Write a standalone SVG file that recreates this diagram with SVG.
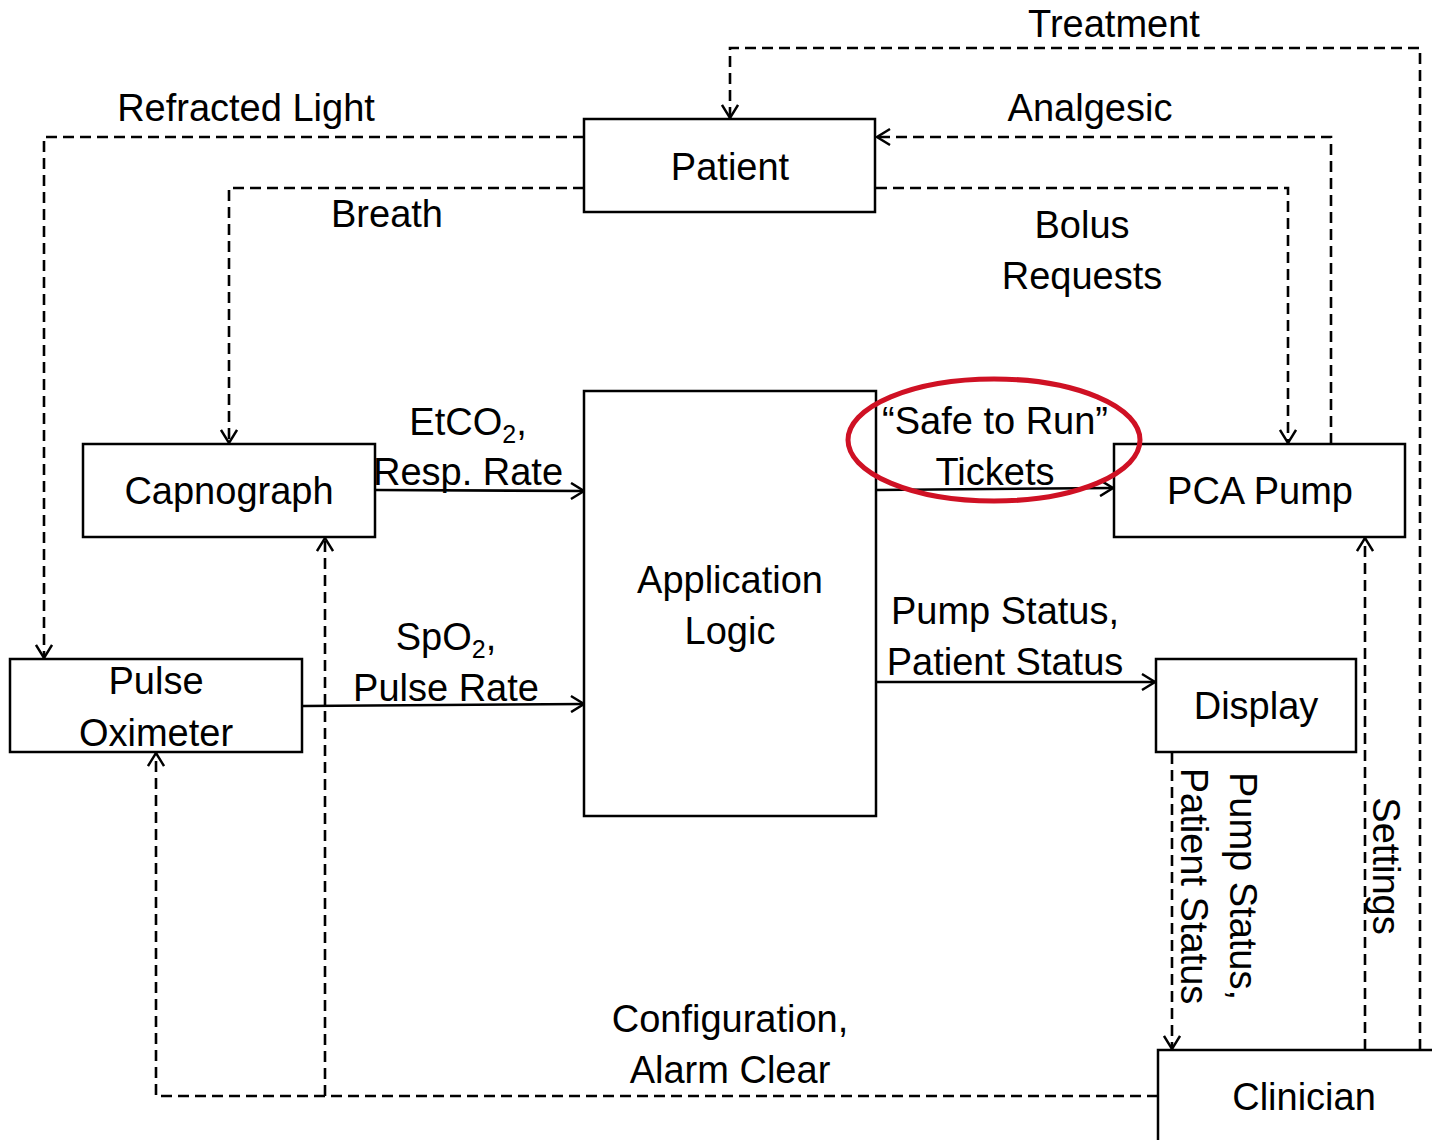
<svg xmlns="http://www.w3.org/2000/svg" width="1432" height="1140" viewBox="0 0 1432 1140">
  <style>
    .box { fill: #ffffff; stroke: #000000; stroke-width: 2.5; }
    .lbl { font-family: "Liberation Sans", Arial, sans-serif; font-size: 38px; fill: #000000; text-anchor: middle; }
    .sub { font-size: 25px; }
    .flow { fill: none; stroke: #000000; stroke-width: 2.6; marker-end: url(#arr); }
    .dash { stroke-dasharray: 11 6; }
  </style>
  <defs>
    <marker id="arr" markerUnits="userSpaceOnUse" markerWidth="18" markerHeight="18" viewBox="0 0 18 18" refX="16" refY="9" orient="auto">
      <path d="M3,1 L16,9 L3,17" fill="none" stroke="#000000" stroke-width="2.4" stroke-dasharray="none"/>
    </marker>
  </defs>

  <rect width="1432" height="1140" fill="#ffffff"/>

  <!-- connectors -->
  <g id="connectors">
    <!-- Clinician -> Patient : Treatment -->
    <path class="flow dash" d="M1420,1050 V48 H730 V118"/>
    <!-- PCA Pump -> Patient : Analgesic -->
    <path class="flow dash" d="M1331,444 V137 H877"/>
    <!-- Patient -> PCA Pump : Bolus Requests -->
    <path class="flow dash" d="M876,188 H1288 V443"/>
    <!-- Patient -> Pulse Oximeter : Refracted Light -->
    <path class="flow dash" d="M584,137 H44 V658"/>
    <!-- Patient -> Capnograph : Breath -->
    <path class="flow dash" d="M584,188 H229 V443"/>
    <!-- Capnograph -> Application Logic -->
    <path class="flow" d="M376,490 L584,491"/>
    <!-- Pulse Oximeter -> Application Logic -->
    <path class="flow" d="M303,706 L584,704"/>
    <!-- Application Logic -> PCA Pump : tickets -->
    <path class="flow" d="M877,490 L1113,488"/>
    <!-- Application Logic -> Display -->
    <path class="flow" d="M877,682 H1155"/>
    <!-- Display -> Clinician -->
    <path class="flow dash" d="M1172,753 V1049"/>
    <!-- Clinician -> PCA Pump : Settings -->
    <path class="flow dash" d="M1365,1050 V538"/>
    <!-- Clinician -> Pulse Oximeter / Capnograph : Configuration -->
    <path class="flow dash" d="M1158,1096 H156 V753"/>
    <path class="flow dash" d="M325,1096 V538"/>

    <!-- connector labels -->
    <text class="lbl" x="1114" y="37">Treatment</text>
    <text class="lbl" x="1090" y="121">Analgesic</text>
    <text class="lbl" x="246" y="121">Refracted Light</text>
    <text class="lbl" x="387" y="227">Breath</text>
    <text class="lbl" x="1082" y="238">Bolus</text>
    <text class="lbl" x="1082" y="289">Requests</text>
    <text class="lbl" x="468" y="435">EtCO<tspan class="sub" dy="8">2</tspan><tspan dy="-8">,</tspan></text>
    <text class="lbl" x="468" y="485">Resp. Rate</text>
    <text class="lbl" x="446" y="650">SpO<tspan class="sub" dy="8">2</tspan><tspan dy="-8">,</tspan></text>
    <text class="lbl" x="446" y="701">Pulse Rate</text>
    <text class="lbl" x="995" y="434">“Safe to Run”</text>
    <text class="lbl" x="995" y="485">Tickets</text>
    <text class="lbl" x="1005" y="624">Pump Status,</text>
    <text class="lbl" x="1005" y="675">Patient Status</text>
    <text class="lbl" transform="translate(1230,886) rotate(90)">Pump Status,</text>
    <text class="lbl" transform="translate(1181,886) rotate(90)">Patient Status</text>
    <text class="lbl" transform="translate(1373,866) rotate(90)">Settings</text>
    <text class="lbl" x="730" y="1032">Configuration,</text>
    <text class="lbl" x="730" y="1083">Alarm Clear</text>
  </g>

  <!-- nodes -->
  <g id="patient">
    <rect class="box" x="584" y="119" width="291" height="93"/>
    <text class="lbl" x="730" y="180">Patient</text>
  </g>
  <g id="capnograph">
    <rect class="box" x="83" y="444" width="292" height="93"/>
    <text class="lbl" x="229" y="504">Capnograph</text>
  </g>
  <g id="pulse-oximeter">
    <rect class="box" x="10" y="659" width="292" height="93"/>
    <text class="lbl" x="156" y="694">Pulse</text>
    <text class="lbl" x="156" y="746">Oximeter</text>
  </g>
  <g id="application-logic">
    <rect class="box" x="584" y="391" width="292" height="425"/>
    <text class="lbl" x="730" y="593">Application</text>
    <text class="lbl" x="730" y="644">Logic</text>
  </g>
  <g id="pca-pump">
    <rect class="box" x="1114" y="444" width="291" height="93"/>
    <text class="lbl" x="1260" y="504">PCA Pump</text>
  </g>
  <g id="display">
    <rect class="box" x="1156" y="659" width="200" height="93"/>
    <text class="lbl" x="1256" y="719">Display</text>
  </g>
  <g id="clinician">
    <rect class="box" x="1158" y="1050" width="292" height="100"/>
    <text class="lbl" x="1304" y="1110">Clinician</text>
  </g>

  <!-- highlight round the ticket flow, drawn over the boxes -->
  <ellipse id="ticket-highlight" cx="994" cy="440" rx="146" ry="61" fill="none" stroke="#cf1124" stroke-width="5"/>
</svg>
